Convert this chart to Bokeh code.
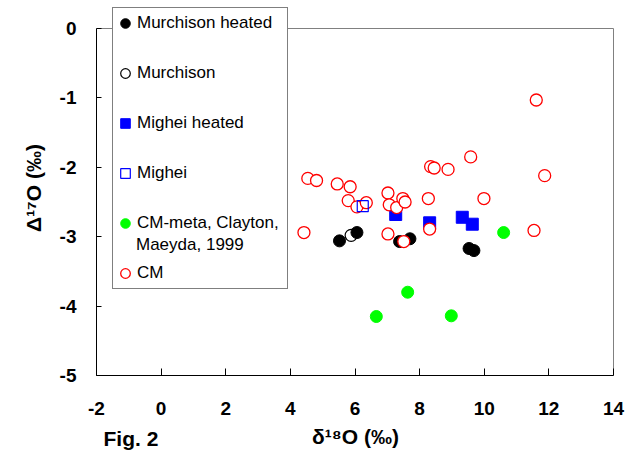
from bokeh.plotting import figure
from bokeh.models import Range1d, FixedTicker, Legend, LegendItem, Title
from bokeh.embed import file_html
from bokeh.resources import INLINE

# Data
mh_x = [5.52, 6.06, 7.38, 7.70, 9.53, 9.68]          # Murchison heated
mh_y = [-3.06, -2.94, -3.07, -3.03, -3.17, -3.20]
m_x = [5.88]                                           # Murchison
m_y = [-2.98]
gh_x = [7.26, 8.31, 9.32, 9.63]                        # Mighei heated
gh_y = [-2.68, -2.80, -2.72, -2.82]
g_x = [6.24]                                           # Mighei
g_y = [-2.56]
meta_x = [10.60, 7.63, 6.66, 8.98]                     # CM-meta, Clayton, Maeyda, 1999
meta_y = [-2.94, -3.80, -4.15, -4.14]
cm_x = [11.61, 4.54, 4.81, 5.45, 5.85, 5.79, 6.06, 6.35, 7.02, 7.06, 7.29, 7.48,
        7.55, 8.27, 8.34, 8.45, 8.88, 9.58, 9.99, 11.87, 4.42, 7.02, 7.51, 8.31, 11.54]
cm_y = [-1.03, -2.16, -2.19, -2.24, -2.28, -2.48, -2.57, -2.51, -2.37, -2.54, -2.58, -2.45,
        -2.50, -2.45, -1.99, -2.01, -2.03, -1.85, -2.45, -2.12, -2.94, -2.96, -3.07, -2.89, -2.91]

x_ticks = [-2, 0, 2, 4, 6, 8, 10, 12, 14]
y_ticks = [0, -1, -2, -3, -4, -5]
x_lo, x_hi = -2, 14
y_lo, y_hi = -5, 0

FONT = "Liberation Sans"

# plot area in pixels: x 96..613, y 28..375; the frame is stretched up to the top
# of the canvas so that the legend (which rises above the plot area) is not clipped
W, H = 628, 456
left_px, right_px, top_px, bottom_px = 96, 613, 28, 375
ppx = (right_px - left_px) / (x_hi - x_lo)
ppy = (bottom_px - top_px) / (y_hi - y_lo)
frame_right = W - 14
x_end = x_hi + (frame_right - right_px) / ppx
y_end = y_hi + top_px / ppy

p = figure(width=W, height=H, output_backend="svg", toolbar_location=None,
           x_range=Range1d(x_lo, x_end), y_range=Range1d(y_lo, y_end),
           min_border_left=left_px, min_border_right=W - frame_right,
           min_border_top=0, min_border_bottom=H - bottom_px)
p.background_fill_color = "white"
p.border_fill_color = "white"
p.outline_line_color = None
p.grid.visible = False

for ax in (p.xaxis[0], p.yaxis[0]):
    ax.axis_line_color = "black"
    ax.axis_line_width = 1
    ax.major_tick_line_color = "black"
    ax.minor_tick_line_color = None
    ax.major_tick_out = 0
    ax.major_label_text_font = FONT
    ax.major_label_text_font_style = "bold"
    ax.major_label_text_font_size = "19px"
    ax.major_label_text_color = "black"
    ax.axis_label_text_font = FONT
    ax.axis_label_text_font_style = "bold"
    ax.axis_label_text_font_size = "21px"
    ax.axis_label_text_color = "black"

p.xaxis.ticker = FixedTicker(ticks=x_ticks)
p.yaxis.ticker = FixedTicker(ticks=y_ticks)
p.xaxis.major_label_overrides = {t: str(t) for t in x_ticks}
p.yaxis.major_label_overrides = {t: str(t) for t in y_ticks}
p.xaxis.bounds = (x_lo, x_hi)
p.yaxis.bounds = (y_lo, y_hi)
p.xaxis.major_tick_in = 7
p.yaxis.major_tick_in = 5
p.xaxis.major_label_standoff = 26
p.yaxis.major_label_standoff = 20
p.xaxis.axis_label = "\u03b4\u00b9\u2078O (\u2030)"
p.yaxis.axis_label = "\u0394\u00b9\u2077O (\u2030)"
p.xaxis.axis_label_standoff = 7
p.yaxis.axis_label_standoff = 12

# grey border of the plot area (top and right)
p.line([x_lo, x_hi, x_hi], [y_hi, y_hi, y_lo], line_color="#808080", line_width=1)

r_mh = p.scatter(mh_x, mh_y, marker="circle", size=12, fill_color="black", line_color="black")
r_m = p.scatter(m_x, m_y, marker="circle", size=12, fill_color=None, line_color="black", line_width=1.2)
r_gh = p.scatter(gh_x, gh_y, marker="square", size=12, fill_color="#0000FF", line_color="#0000FF")
r_meta = p.scatter(meta_x, meta_y, marker="circle", size=12, fill_color="#00FF00", line_color="#00FF00")
r_cm = p.scatter(cm_x, cm_y, marker="circle", size=12, fill_color="white", line_color="#FF0000", line_width=1.3)
r_g = p.scatter(g_x, g_y, marker="square", size=11, fill_color=None, line_color="#0000FF", line_width=1.2)

legend_style = dict(margin=0, padding=0, label_standoff=0,
                    label_text_font=FONT, label_text_font_size="17px", label_text_color="black")

legend = Legend(items=[
    LegendItem(label="Murchison heated", renderers=[r_mh]),
    LegendItem(label="Murchison", renderers=[r_m]),
    LegendItem(label="Mighei heated", renderers=[r_gh]),
    LegendItem(label="Mighei", renderers=[r_g]),
    LegendItem(label="CM-meta, Clayton,", renderers=[r_meta]),
    LegendItem(label="CM", renderers=[r_cm]),
], location=(112 - left_px, bottom_px - 289), spacing=20,
   glyph_width=24, glyph_height=30, label_height=30, label_width=150,
   border_line_color="black", border_line_width=1, background_fill_color="white",
   background_fill_alpha=1.0, **legend_style)
p.add_layout(legend, "center")

# second line of the CM-meta legend entry (no symbol of its own)
legend2 = Legend(items=[LegendItem(label="Maeyda, 1999", renderers=[r_meta])],
                 location=(136 - left_px, bottom_px - 255), spacing=0,
                 glyph_width=0, glyph_height=21, label_height=21, label_width=20,
                 border_line_alpha=0, background_fill_alpha=0, **legend_style)
p.add_layout(legend2, "center")

# figure tag under the plot (second, empty line only gives the tag room to sit
# beside the axis title)
p.add_layout(Title(text="Fig. 2\n\u00a0", align="left", offset=7, standoff=-48,
                   vertical_align="top", text_font=FONT, text_font_size="21px",
                   text_font_style="bold", text_color="black"), "below")

open("out.html", "w").write(file_html(p, INLINE))
